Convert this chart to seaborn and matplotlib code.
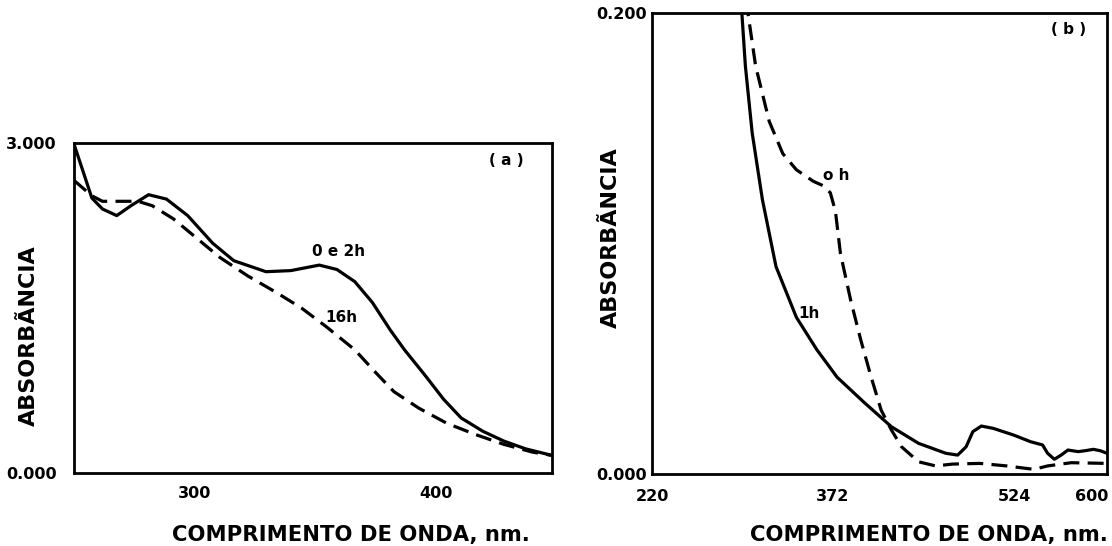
import numpy as np
import pandas as pd
import matplotlib
matplotlib.use("Agg")
import matplotlib.pyplot as plt
import matplotlib.transforms as mtransforms
import seaborn as sns

# ---------------- data ----------------
# Panel (a): wavelength (nm) vs absorbance
a_solid_nm = [250, 257.4, 261.8, 267.7, 273.6, 280.9, 288.3, 297.1, 307.4, 316.2,
              329.5, 339.8, 351.6, 358.9, 366.3, 373.6, 381.0, 386.9, 395.7, 403.1,
              410.4, 419.3, 428.1, 437.0, 448.0]
a_solid_abs = [2.99, 2.50, 2.40, 2.34, 2.43, 2.53, 2.49, 2.34, 2.09, 1.93,
               1.83, 1.84, 1.89, 1.85, 1.74, 1.55, 1.30, 1.12, 0.88, 0.67,
               0.50, 0.38, 0.29, 0.22, 0.16]
a_dash_nm = [250, 257.4, 261.8, 269.1, 276.5, 282.4, 291.2, 300.0, 310.4, 322.1,
             333.9, 344.2, 354.5, 366.3, 375.1, 382.5, 392.8, 404.6, 416.3, 428.1,
             439.9, 448.0]
a_dash_abs = [2.66, 2.52, 2.47, 2.47, 2.47, 2.43, 2.31, 2.15, 1.96, 1.79,
              1.64, 1.50, 1.33, 1.12, 0.91, 0.74, 0.59, 0.45, 0.35, 0.26,
              0.19, 0.16]

# Panel (b)
b_solid_nm = [293.5, 298.4, 304.1, 312.7, 324.1, 341.2, 358.3, 375.4, 398.2, 421.0,
              443.8, 466.6, 476.6, 483.7, 489.4, 496.5, 506.5, 523.6, 537.9, 547.9,
              552.1, 557.8, 563.5, 569.2, 577.8, 583.5, 590.6, 596.3, 602.0]
b_solid_abs = [0.215, 0.177, 0.148, 0.119, 0.090, 0.068, 0.054, 0.042, 0.031, 0.0205,
               0.0133, 0.0090, 0.0082, 0.0118, 0.0184, 0.0208, 0.0198, 0.0169, 0.0140, 0.0126,
               0.0090, 0.0064, 0.0082, 0.0104, 0.0097, 0.0101, 0.0107, 0.0101, 0.0090]
b_dash_nm = [299.0, 307.0, 318.4, 329.8, 341.2, 355.4, 364.0, 369.7, 374.0, 378.2,
             386.8, 395.3, 403.9, 412.4, 421.0, 429.5, 443.8, 458.1, 472.3, 495.1,
             517.9, 540.7, 552.1, 572.0, 602.0]
b_dash_abs = [0.2055, 0.177, 0.153, 0.139, 0.132, 0.127, 0.125, 0.122, 0.114, 0.0957,
              0.0754, 0.0581, 0.0422, 0.0277, 0.0191, 0.0118, 0.0053, 0.0035, 0.0043, 0.0046,
              0.0035, 0.0020, 0.0035, 0.0049, 0.0046]

a_xticks = [300, 400]
a_yticks = [0.0, 3.0]
a_yticklabels = ["0.000", "3.000"]
b_xticks = [220, 372, 524, 600]
b_yticks = [0.0, 0.2]
b_yticklabels = ["0.000", "0.200"]

ylabel_text = "ABSORBÃNCIA"
xlabel_text = "COMPRIMENTO DE ONDA, nm."

# ---------------- style ----------------
sns.set_style("white")
plt.rcParams["font.family"] = ["DejaVu Sans"]
plt.rcParams["font.weight"] = "bold"
for k in ["text.color", "axes.labelcolor", "xtick.color", "ytick.color"]:
    plt.rcParams[k] = "black"

fig = plt.figure(figsize=(11.12, 5.46), dpi=100)
W, H = 1112, 546
ax_a = fig.add_axes([74 / W, 1 - 473 / H, (552 - 74) / W, (473 - 143) / H])
ax_b = fig.add_axes([652 / W, 1 - 474 / H, (1107 - 652) / W, (474 - 13) / H])

lw = 2.3
dash = (5, 2.6)

def frame(ax):
    for s in ax.spines.values():
        s.set_visible(True)
        s.set_color("black")
        s.set_linewidth(2.0)

# Panel (a)
df_as = pd.DataFrame({"nm": a_solid_nm, "abs": a_solid_abs})
df_ad = pd.DataFrame({"nm": a_dash_nm, "abs": a_dash_abs})
sns.lineplot(data=df_as, x="nm", y="abs", ax=ax_a, color="black", lw=lw, sort=False)
sns.lineplot(data=df_ad, x="nm", y="abs", ax=ax_a, color="black", lw=lw, sort=False,
             dashes=False, linestyle=(0, dash))
ax_a.set_xlim(250, 448)
ax_a.set_ylim(0, 3.0)
ax_a.set_xticks(a_xticks)
ax_a.set_xticklabels([str(t) for t in a_xticks])
ax_a.set_yticks(a_yticks)
ax_a.set_yticklabels(a_yticklabels)
frame(ax_a)
ax_a.tick_params(axis="both", direction="inout", length=5, width=1.5, labelsize=11.5)
ax_a.tick_params(axis="y", pad=10)
ax_a.tick_params(axis="x", pad=7)
ax_a.text(359.5, 2.01, "0 e 2h", fontsize=11, fontweight="bold", ha="center", va="center")
ax_a.text(360.6, 1.41, "16h", fontsize=11, fontweight="bold", ha="center", va="center")
ax_a.text(429, 2.84, "( a )", fontsize=11, fontweight="bold", ha="center", va="center")

# Panel (b)
df_bs = pd.DataFrame({"nm": b_solid_nm, "abs": b_solid_abs})
df_bd = pd.DataFrame({"nm": b_dash_nm, "abs": b_dash_abs})
sns.lineplot(data=df_bs, x="nm", y="abs", ax=ax_b, color="black", lw=lw, sort=False)
sns.lineplot(data=df_bd, x="nm", y="abs", ax=ax_b, color="black", lw=lw, sort=False,
             dashes=False, linestyle=(0, dash))
ax_b.set_xlim(220, 602)
ax_b.set_ylim(0, 0.2)
ax_b.set_xticks(b_xticks)
ax_b.set_xticklabels([str(t) for t in b_xticks])
ax_b.set_yticks(b_yticks)
ax_b.set_yticklabels(b_yticklabels)
frame(ax_b)
ax_b.tick_params(axis="both", direction="inout", length=5, width=1.5, labelsize=11.5)
ax_b.tick_params(axis="y", pad=1)
ax_b.tick_params(axis="x", pad=8)
# keep the last x tick label inside the figure
last = ax_b.get_xticklabels()[-1]
last.set_ha("right")
last.set_transform(last.get_transform() + mtransforms.ScaledTranslation(4 / 100, 0, fig.dpi_scale_trans))
ax_b.text(375, 0.1296, "o h", fontsize=11, fontweight="bold", ha="center", va="center")
ax_b.text(352, 0.0697, "1h", fontsize=11, fontweight="bold", ha="center", va="center")
ax_b.text(570, 0.193, "( b )", fontsize=11, fontweight="bold", ha="center", va="center")

# Axis labels
for ax, xl_pos, yl_pos in [
    (ax_a, (0.58, -0.188), (-0.094, 0.415)),
    (ax_b, (0.609, -0.132), (-0.09, 0.512)),
]:
    ax.set_xlabel(xlabel_text, fontsize=15.2, fontweight="bold")
    ax.set_ylabel(ylabel_text, fontsize=16, fontweight="bold")
    ax.xaxis.label.set_va("center")
    ax.yaxis.label.set_va("center")
    ax.xaxis.set_label_coords(*xl_pos)
    ax.yaxis.set_label_coords(*yl_pos)

fig.savefig("out.png", dpi=100, facecolor="white")
